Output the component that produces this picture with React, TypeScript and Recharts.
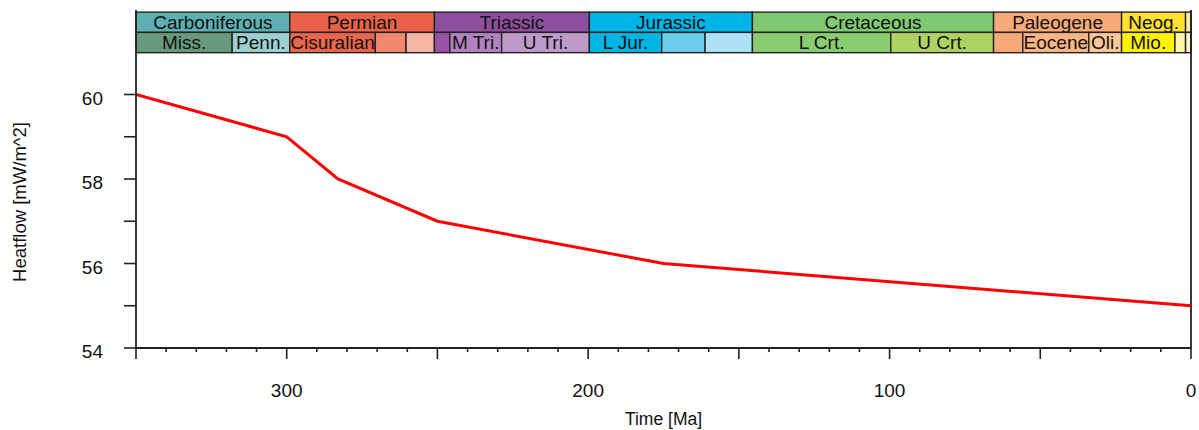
import React from 'react';
import { LineChart, Line, XAxis, YAxis, ReferenceArea, ReferenceLine } from 'recharts';

// ---- data ----
const timeMa = [350, 300, 283, 250, 175, 0];
const heatflow = [60, 59, 58, 57, 56, 55];

const xTicks = [0, 10, 20, 30, 40, 50, 60, 70, 80, 90, 100, 110, 120, 130, 140, 150, 160, 170, 180, 190, 200, 210, 220, 230, 240, 250, 260, 270, 280, 290, 300, 310, 320, 330, 340, 350];
const yTicks = [54, 55, 56, 57, 58, 59, 60];

const periodNames = ['Carboniferous', 'Permian', 'Triassic', 'Jurassic', 'Cretaceous', 'Paleogene', 'Neog.', ''];
const periodStart = [359.2, 299.0, 251.0, 199.6, 145.5, 65.5, 23.03, 1.806];
const periodEnd = [299.0, 251.0, 199.6, 145.5, 65.5, 23.03, 1.806, 0];
const periodColors = ['#5EAFB2', '#E8634A', '#8C4F9E', '#00B5E6', '#80C972', '#F8A978', '#FFE033', '#FAF0A5'];

const epochNames = ['Miss.', 'Penn.', 'Cisuralian', '', '', '', 'M Tri.', 'U Tri.', 'L Jur.', '', '', 'L Crt.', 'U Crt.', '', 'Eocene', 'Oli.', 'Mio.', '', ''];
const epochStart = [359.2, 318.1, 299.0, 270.6, 260.4, 251.0, 245.9, 228.7, 199.6, 175.6, 161.2, 145.5, 99.6, 65.5, 55.8, 33.9, 23.03, 5.332, 1.806];
const epochEnd = [318.1, 299.0, 270.6, 260.4, 251.0, 245.9, 228.7, 199.6, 175.6, 161.2, 145.5, 99.6, 65.5, 55.8, 33.9, 23.03, 5.332, 1.806, 0];
const epochColors = ['#679A7C', '#9CCFD0', '#EA654C', '#F2866E', '#F8B5A5', '#9A52A5', '#B281C2', '#BE9ACB', '#00B5E6', '#6BCDEB', '#ADE1F7', '#8ACB6F', '#AED264', '#F8A978', '#F9B583', '#FBC797', '#FFF200', '#FFF5A8', '#FFF5C8'];

// ---- chart constants ----
const X_DOMAIN: [number, number] = [0, 350];
const Y_DOMAIN: [number, number] = [54, 62];
const BAND_TOP = 61.95;
const BAND_MID = 61.47;
const BAND_BOT = 60.99;

const FONT = '"Liberation Sans", Arial, Helvetica, sans-serif';
const AXIS = '#222';
const TEXT = '#111';

const data = timeMa.map((t, i) => ({ t, hf: heatflow[i] }));

const XTick = (props: any) => {
  const { x, y, payload } = props;
  const v = payload.value;
  const major = v % 50 === 0;
  return (
    <g>
      <line x1={x} x2={x} y1={y} y2={y + (major ? 11 : 4)} stroke={AXIS} strokeWidth={1.6} />
      {v % 100 === 0 && (
        <text x={x} y={y + 49} textAnchor="middle" fontSize={19} fontFamily={FONT} fill={TEXT}>
          {v}
        </text>
      )}
    </g>
  );
};

const YTick = (props: any) => {
  const { x, y, payload } = props;
  const v = payload.value;
  return (
    <g>
      <line x1={x - 12} x2={x} y1={y} y2={y} stroke={AXIS} strokeWidth={1.6} />
      {v % 2 === 0 && (
        <text x={x - 33} y={y + 10} textAnchor="end" fontSize={19} fontFamily={FONT} fill={TEXT}>
          {v}
        </text>
      )}
    </g>
  );
};

const YLabel = (props: any) => {
  const vb = props.viewBox || { x: 0, y: 0, width: 0, height: 0 };
  const cx = vb.x + 26;
  const cy = vb.y + vb.height / 2 + 23;
  return (
    <text
      x={cx}
      y={cy}
      transform={`rotate(-90, ${cx}, ${cy})`}
      textAnchor="middle"
      fontSize={18.5}
      fontFamily={FONT}
      fill={TEXT}
    >
      Heatflow [mW/m^2]
    </text>
  );
};

const XLabel = (props: any) => {
  const vb = props.viewBox || { x: 0, y: 0, width: 0, height: 0 };
  return (
    <text x={vb.x + vb.width / 2} y={vb.y + 77} textAnchor="middle" fontSize={17.5} fontFamily={FONT} fill={TEXT}>
      Time [Ma]
    </text>
  );
};

const bandShape = (label: string) => (p: any) => (
  <g>
    <rect x={p.x} y={p.y} width={p.width} height={p.height} fill={p.fill} stroke="#222" strokeWidth={1.4} />
    {label ? (
      <text
        x={p.x + p.width / 2}
        y={p.y + p.height / 2 + 6.8}
        textAnchor="middle"
        fontSize={19}
        fontFamily={FONT}
        fill={TEXT}
      >
        {label}
      </text>
    ) : null}
  </g>
);

const clampX = (v: number) => Math.min(v, X_DOMAIN[1]);

export default function App() {
  return (
    <div style={{ position: 'fixed', left: 0, top: 0, background: '#fff', width: 1199, height: 430 }}>
      <LineChart width={1199} height={430} data={data} margin={{ top: 10, right: 8, bottom: 0, left: 0 }}>
        {periodNames.map((n, i) => (
          <ReferenceArea
            key={'p' + i}
            x1={clampX(periodStart[i])}
            x2={periodEnd[i]}
            y1={BAND_MID}
            y2={BAND_TOP}
            fill={periodColors[i]}
            fillOpacity={1}
            shape={bandShape(n)}
          />
        ))}
        {epochNames.map((n, i) => (
          <ReferenceArea
            key={'e' + i}
            x1={clampX(epochStart[i])}
            x2={epochEnd[i]}
            y1={BAND_BOT}
            y2={BAND_MID}
            fill={epochColors[i]}
            fillOpacity={1}
            shape={bandShape(n)}
          />
        ))}
        <XAxis
          dataKey="t"
          type="number"
          domain={X_DOMAIN}
          reversed
          ticks={xTicks}
          interval={0}
          tickSize={0}
          tickMargin={0}
          tickLine={false}
          tick={<XTick />}
          height={82}
          axisLine={{ stroke: AXIS, strokeWidth: 1.8 }}
          allowDataOverflow
          label={<XLabel />}
        />
        <YAxis
          type="number"
          domain={Y_DOMAIN}
          ticks={yTicks}
          interval={0}
          tickSize={0}
          tickMargin={0}
          tickLine={false}
          tick={<YTick />}
          width={136}
          axisLine={{ stroke: AXIS, strokeWidth: 1.8 }}
          allowDataOverflow
          label={<YLabel />}
        />
        <ReferenceLine x={0} stroke={AXIS} strokeWidth={1.8} ifOverflow="visible" />
        <Line
          dataKey="hf"
          type="linear"
          stroke="#ff0000"
          strokeWidth={3}
          dot={false}
          activeDot={false}
          isAnimationActive={false}
        />
      </LineChart>
    </div>
  );
}
